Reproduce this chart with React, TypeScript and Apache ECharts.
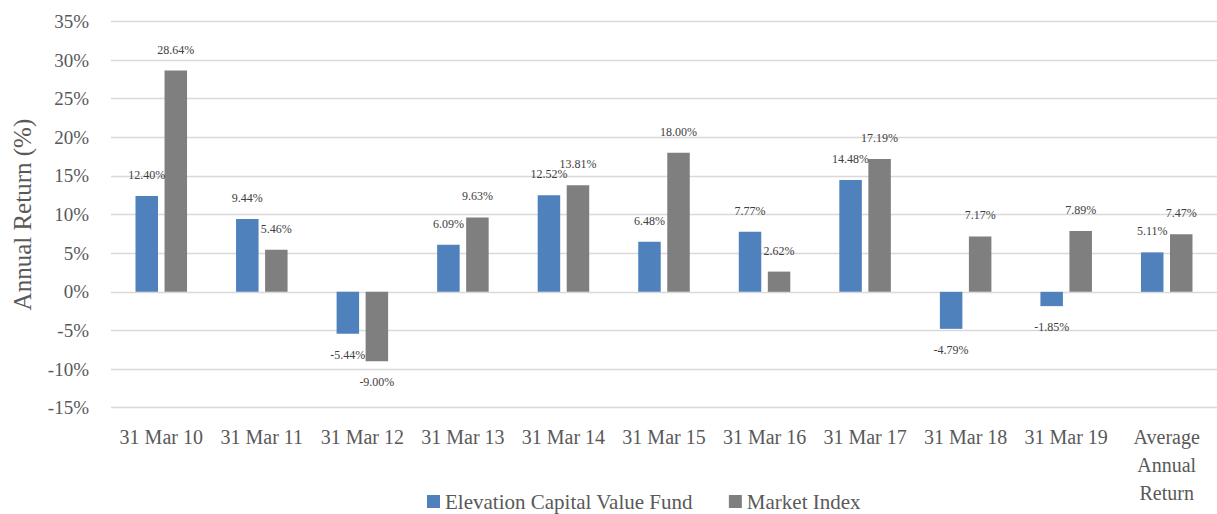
import React, { useEffect, useRef } from "react";
import * as echarts from "echarts";

const categories = [
  "31 Mar 10", "31 Mar 11", "31 Mar 12", "31 Mar 13", "31 Mar 14", "31 Mar 15",
  "31 Mar 16", "31 Mar 17", "31 Mar 18", "31 Mar 19", "Average\nAnnual\nReturn",
];
const fundName = "Elevation Capital Value Fund";
const indexName = "Market Index";
const fundValues = [12.40, 9.44, -5.44, 6.09, 12.52, 6.48, 7.77, 14.48, -4.79, -1.85, 5.11];
const indexValues = [28.64, 5.46, -9.00, 9.63, 13.81, 18.00, 2.62, 17.19, 7.17, 7.89, 7.47];
const yMin = -15;
const yMax = 35;
const yStep = 5;

const FONT = "'Liberation Serif', 'DejaVu Serif', serif";

function toData(values: number[]) {
  return values.map((v) => ({
    value: v,
    label: { position: v < 0 ? "bottom" : "top" },
  }));
}

export default function App() {
  const ref = useRef<HTMLDivElement>(null);
  useEffect(() => {
    if (!ref.current) return;
    const chart = echarts.init(ref.current, null, { renderer: "svg" });
    const labelCfg = {
      show: true,
      distance: 15,
      fontFamily: FONT,
      fontSize: 12,
      color: "#404040",
      formatter: (p: any) => p.value.toFixed(2) + "%",
    };
    chart.setOption({
      animation: false,
      backgroundColor: "#ffffff",
      textStyle: { fontFamily: FONT },
      grid: { left: 111, right: -8, top: 21.5, bottom: 106.3, containLabel: false },
      legend: {
        left: 427,
        top: 491,
        padding: 0,
        itemWidth: 13,
        itemHeight: 13,
        itemGap: 36,
        icon: "rect",
        textStyle: { fontFamily: FONT, fontSize: 21, color: "#595959" },
        data: [fundName, indexName],
      },
      xAxis: {
        type: "category",
        data: categories,
        axisLine: { show: false, onZero: false },
        axisTick: { show: false },
        axisLabel: {
          interval: 0,
          margin: 15,
          fontFamily: FONT,
          fontSize: 20,
          lineHeight: 28,
          color: "#595959",
        },
      },
      yAxis: {
        type: "value",
        min: yMin,
        max: yMax,
        interval: yStep,
        name: "Annual Return (%)",
        nameLocation: "middle",
        nameGap: 76,
        nameTextStyle: { fontFamily: FONT, fontSize: 25, color: "#595959" },
        axisLine: { show: false },
        axisTick: { show: false },
        axisLabel: {
          margin: 22,
          fontFamily: FONT,
          fontSize: 19,
          color: "#595959",
          formatter: (v: number) => v + "%",
        },
        splitLine: { lineStyle: { color: "#d9d9d9", width: 1.3 } },
      },
      series: [
        {
          name: fundName,
          type: "bar",
          barWidth: 22.5,
          barGap: "29%",
          itemStyle: { color: "#4f81bd" },
          label: labelCfg,
          data: toData(fundValues),
        },
        {
          name: indexName,
          type: "bar",
          barWidth: 22.5,
          barGap: "29%",
          itemStyle: { color: "#7f7f7f" },
          label: labelCfg,
          data: toData(indexValues),
        },
      ],
    });
    return () => chart.dispose();
  }, []);
  return (
    <div
      ref={ref}
      style={{ position: "fixed", left: 0, top: 0, width: 1217, height: 514 }}
    />
  );
}
